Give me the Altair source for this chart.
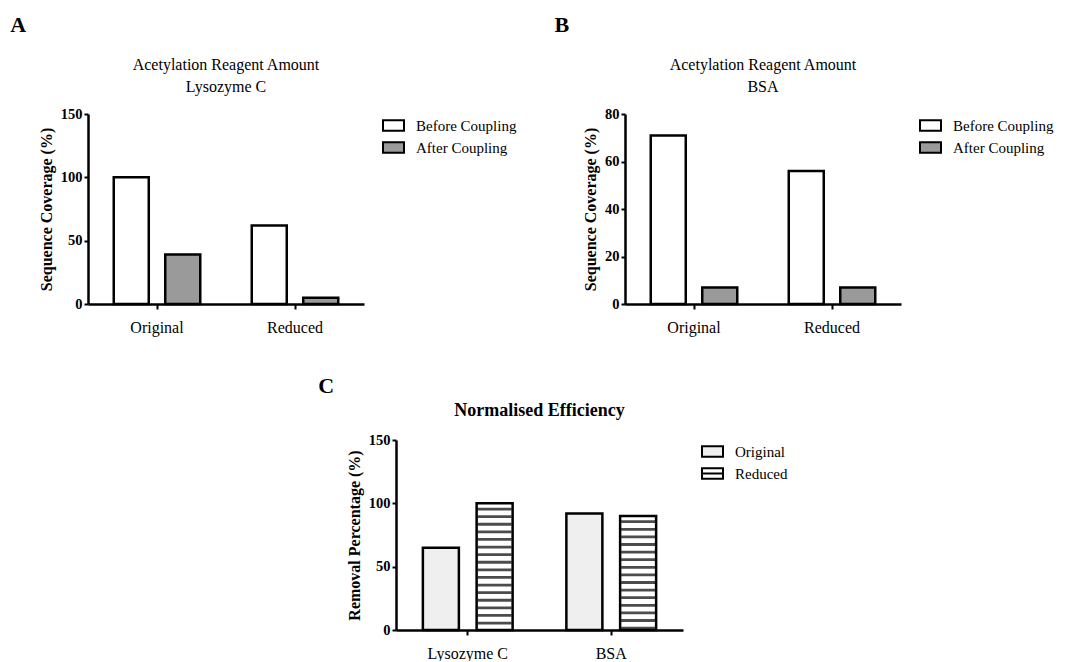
import altair as alt
import pandas as pd

# --- data -------------------------------------------------------------
conditions = ["Original", "Reduced"]
stages = ["Before Coupling", "After Coupling"]
lysozyme_before = [100, 62]
lysozyme_after = [39, 5]
bsa_before = [71, 56]
bsa_after = [7, 7]

proteins = ["Lysozyme C", "BSA"]
treatments = ["Original", "Reduced"]
removal_original = [65, 92]
removal_reduced = [100, 90]


def coverage_frame(before, after):
    rows = []
    for cond, b, a in zip(conditions, before, after):
        rows.append({"condition": cond, "stage": stages[0], "coverage": b})
        rows.append({"condition": cond, "stage": stages[1], "coverage": a})
    return pd.DataFrame(rows)


lyso_df = coverage_frame(lysozyme_before, lysozyme_after)
bsa_df = coverage_frame(bsa_before, bsa_after)

eff_rows = []
for prot, o, r in zip(proteins, removal_original, removal_reduced):
    eff_rows.append({"protein": prot, "treatment": treatments[0], "removal": o})
    eff_rows.append({"protein": prot, "treatment": treatments[1], "removal": r})
eff_df = pd.DataFrame(eff_rows)

# --- styling ----------------------------------------------------------
SERIF = "Liberation Serif"
RECT = "M-1,-0.5H1V0.5H-1Z"
RECT_STRIPED = "M-1,-0.5H1V0.5H-1Z M-1,0H1"
PLOT_W = 276
PLOT_H = 190


def independent(c):
    return c.resolve_scale(
        x="independent", y="independent", fill="independent", xOffset="independent"
    ).resolve_legend(fill="independent")


def legend(symbol=RECT):
    return alt.Legend(
        title=None,
        orient="right",
        offset=18,
        padding=0,
        symbolType=symbol,
        symbolSize=441,
        symbolStrokeColor="black",
        symbolStrokeWidth=2,
        labelFont=SERIF,
        labelFontSize=15,
        labelColor="black",
        labelOffset=11,
        rowPadding=1,
    )


def x_axis():
    return alt.Axis(
        title=None,
        labelAngle=0,
        labelFont=SERIF,
        labelFontSize=16,
        labelFontWeight="normal",
        labelPadding=10,
        tickSize=5,
    )


def y_axis(title, values):
    return alt.Axis(
        title=title,
        values=values,
        labelFont=SERIF,
        labelFontSize=14.5,
        labelFontWeight="bold",
        labelPadding=2,
        tickSize=4,
        titleFont=SERIF,
        titleFontSize=16,
        titleFontWeight="bold",
        titlePadding=6,
    )


def coverage_panel(df, letter, protein, ymax, ystep):
    bars = (
        alt.Chart(df)
        .mark_bar(stroke="black", strokeWidth=2.5)
        .encode(
            x=alt.X("condition:N", sort=conditions,
                    scale=alt.Scale(paddingInner=0, paddingOuter=0), axis=x_axis()),
            xOffset=alt.XOffset("stage:N", sort=stages,
                                scale=alt.Scale(domain=stages, paddingInner=0.32,
                                                paddingOuter=0.5)),
            y=alt.Y("coverage:Q", scale=alt.Scale(domain=[0, ymax], nice=False),
                    axis=y_axis("Sequence Coverage (%)", list(range(0, ymax + 1, ystep)))),
            fill=alt.Fill("stage:N", sort=stages,
                          scale=alt.Scale(domain=stages, range=["white", "#9a9a9a"]),
                          legend=legend()),
        )
        .properties(
            width=PLOT_W,
            height=PLOT_H,
            title=alt.Title(["Acetylation Reagent Amount", protein], anchor="middle",
                            font=SERIF, fontSize=16, fontWeight="normal",
                            lineHeight=22, offset=11),
        )
    )
    return independent(alt.vconcat(bars)).properties(
        title=alt.Title(letter, anchor="start", dx=-28, font=SERIF, fontSize=22,
                        fontWeight="bold", offset=20)
    )


panel_a = coverage_panel(lyso_df, "A", "Lysozyme C", 150, 50)
panel_b = coverage_panel(bsa_df, "B", "BSA", 80, 20)

# --- panel C: normalised efficiency ---------------------------------
x_c = alt.X("protein:N", sort=proteins,
            scale=alt.Scale(paddingInner=0, paddingOuter=0), axis=x_axis())
off_c = alt.XOffset("treatment:N", sort=treatments,
                    scale=alt.Scale(domain=treatments, paddingInner=0.33, paddingOuter=0.5))

symbol_c = alt.ExprRef(
    expr="datum.value === 'Reduced' ? '" + RECT_STRIPED + "' : '" + RECT + "'"
)

bars_c = (
    alt.Chart(eff_df)
    .mark_bar(stroke="black", strokeWidth=2.5)
    .encode(
        x=x_c,
        xOffset=off_c,
        y=alt.Y("removal:Q", scale=alt.Scale(domain=[0, 150], nice=False),
                axis=y_axis("Removal Percentage (%)", [0, 50, 100, 150])),
        fill=alt.Fill("treatment:N", sort=treatments,
                      scale=alt.Scale(domain=treatments, range=["#efefef", "white"]),
                      legend=legend(symbol_c)),
    )
)

# horizontal hatching inside the "Reduced" bars
stripes_c = (
    alt.Chart(eff_df)
    .transform_filter("datum.treatment === 'Reduced'")
    .transform_calculate(stripe="sequence(datum.removal - 4.5, 1, -6)")
    .transform_flatten(["stripe"])
    .mark_tick(orient="horizontal", size=34, thickness=2.8, color="black")
    .encode(x=x_c, xOffset=off_c, y=alt.Y("stripe:Q"))
)

panel_c_inner = alt.layer(bars_c, stripes_c).properties(
    width=287,
    height=PLOT_H,
    title=alt.Title("Normalised Efficiency", anchor="middle", font=SERIF,
                    fontSize=18, fontWeight="bold", offset=12),
)
panel_c = independent(alt.vconcat(panel_c_inner)).properties(
    title=alt.Title("C", anchor="start", dx=-28, font=SERIF, fontSize=22,
                    fontWeight="bold", offset=4)
)

spacer = (
    alt.Chart(pd.DataFrame({"v": [0]}))
    .mark_point(opacity=0)
    .encode(x=alt.value(0), y=alt.value(0))
    .properties(width=210, height=10)
)

chart = (
    independent(
        alt.vconcat(
            independent(alt.hconcat(panel_a, panel_b, spacing=37)),
            independent(alt.hconcat(spacer, panel_c, spacing=20)),
            spacing=40,
        )
    )
    .properties(padding={"left": 10, "top": 14, "right": 0, "bottom": 0})
    .configure_view(stroke=None)
    .configure_axis(
        grid=False,
        domainColor="black",
        domainWidth=2.5,
        tickColor="black",
        tickWidth=2,
        labelColor="black",
        titleColor="black",
    )
    .configure_title(color="black")
)

chart.save("out.html", embed_options={"renderer": "svg", "actions": False})
